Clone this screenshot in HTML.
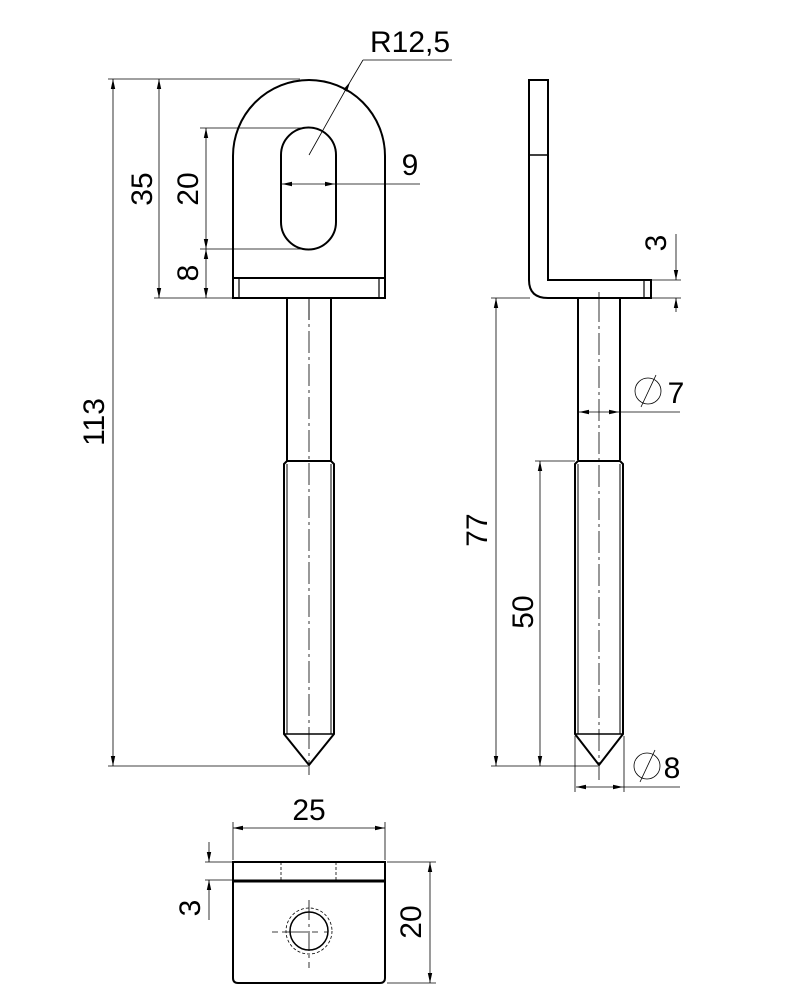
<!DOCTYPE html>
<html><head><meta charset="utf-8"><style>html,body{margin:0;padding:0;background:#fff}svg{display:block}</style></head>
<body>
<svg width="800" height="1000" viewBox="0 0 800 1000" xmlns="http://www.w3.org/2000/svg" font-family="Liberation Sans, DejaVu Sans, sans-serif">
<defs>
<marker id="a" viewBox="0 0 10 6" refX="10" refY="3" markerWidth="10" markerHeight="6" orient="auto-start-reverse" markerUnits="userSpaceOnUse"><path d="M0,0.8 L10,3 L0,5.2z" fill="#000"/></marker>
</defs>
<g fill="none" stroke="#000" stroke-width="2">
<path d="M233,278 L233,156 A76,76 0 0 1 385,156 L385,278 Z"/>
<path d="M281,155 A27.5,27.5 0 0 1 336,155 L336,222 A27.5,27.5 0 0 1 281,222 Z"/>
<rect x="233" y="278" width="152" height="20"/>
<line x1="239" y1="278" x2="239" y2="298" stroke-width="1.2"/>
<line x1="379" y1="278" x2="379" y2="298" stroke-width="1.2"/>
<path d="M287,298 L287,462 M331,298 L331,462"/>
<path d="M284,464 L287,461 L331,461 L334,464 L334,734 L309,765 L284,734 Z"/>
<line x1="284" y1="734" x2="334" y2="734" stroke-width="1.5"/>
<line x1="287" y1="464" x2="287" y2="734" stroke-width="1"/>
<line x1="331" y1="464" x2="331" y2="734" stroke-width="1"/>
<path d="M529,80 L548,80 L548,280 L651,280 L651,298 L548,298 Q529,298 529,280 Z"/>
<line x1="529" y1="155" x2="548" y2="155" stroke-width="1.5"/>
<line x1="644" y1="280" x2="644" y2="298" stroke-width="1.2"/>
<path d="M578,298 L578,460 M620,298 L620,460"/>
<path d="M575,464 L578,461 L620,461 L623,464 L623,734 L599,765 L575,734 Z"/>
<line x1="575" y1="734" x2="623" y2="734" stroke-width="1.5"/>
<line x1="578" y1="464" x2="578" y2="734" stroke-width="1"/>
<line x1="620" y1="464" x2="620" y2="734" stroke-width="1"/>
<path d="M233,862 L385,862 L385,978 Q385,983 380,983 L238,983 Q233,983 233,978 Z"/>
<line x1="233" y1="881" x2="385" y2="881" stroke-width="3"/>
<circle cx="309" cy="931" r="19" stroke-width="1.5"/>
</g>
<g fill="none" stroke="#000" stroke-width="0.8">
<line x1="309" y1="298" x2="309" y2="775" stroke-dasharray="22,4,3,4"/>
<line x1="599" y1="300" x2="599" y2="780" stroke-dasharray="22,4,3,4"/>
<line x1="309" y1="900" x2="309" y2="968" stroke-dasharray="20,4,3,4"/>
<line x1="272" y1="932" x2="346" y2="932" stroke-dasharray="6,4,26,4,6"/>
<circle cx="309" cy="931" r="23" stroke-dasharray="3,2"/>
<line x1="281" y1="862" x2="281" y2="880" stroke-dasharray="3,2"/>
<line x1="336" y1="862" x2="336" y2="880" stroke-dasharray="3,2"/>
<line x1="309" y1="298" x2="309" y2="320"/>
<line x1="599" y1="292" x2="599" y2="300"/>
<line x1="108" y1="79" x2="300" y2="79"/>
<line x1="108" y1="766" x2="308" y2="766"/>
<line x1="154" y1="298" x2="233" y2="298"/>
<line x1="200" y1="128" x2="308" y2="128"/>
<line x1="200" y1="249" x2="308" y2="249"/>
<line x1="491" y1="298" x2="530" y2="298"/>
<line x1="491" y1="766" x2="598" y2="766"/>
<line x1="535" y1="461" x2="575" y2="461"/>
<line x1="651" y1="280" x2="681" y2="280"/>
<line x1="651" y1="298" x2="681" y2="298"/>
<line x1="575" y1="736" x2="575" y2="792"/>
<line x1="624" y1="736" x2="624" y2="792"/>
<line x1="233" y1="822" x2="233" y2="860"/>
<line x1="385" y1="822" x2="385" y2="860"/>
<line x1="205" y1="862" x2="233" y2="862"/>
<line x1="205" y1="880" x2="233" y2="880"/>
<line x1="387" y1="862" x2="436" y2="862"/>
<line x1="387" y1="983" x2="436" y2="983"/>
<line x1="113" y1="79" x2="113" y2="766" marker-start="url(#a)" marker-end="url(#a)"/>
<line x1="159" y1="79" x2="159" y2="298" marker-start="url(#a)" marker-end="url(#a)"/>
<line x1="206" y1="128" x2="206" y2="249" marker-start="url(#a)" marker-end="url(#a)"/>
<line x1="206" y1="249" x2="206" y2="298" marker-start="url(#a)" marker-end="url(#a)"/>
<line x1="282" y1="184" x2="335" y2="184" marker-start="url(#a)" marker-end="url(#a)"/>
<line x1="335" y1="184" x2="420" y2="184"/>
<line x1="309" y1="155" x2="350" y2="82" marker-end="url(#a)"/>
<line x1="350" y1="82" x2="363" y2="60"/>
<line x1="363" y1="60" x2="452" y2="60"/>
<line x1="496" y1="298" x2="496" y2="766" marker-start="url(#a)" marker-end="url(#a)"/>
<line x1="540" y1="461" x2="540" y2="766" marker-start="url(#a)" marker-end="url(#a)"/>
<line x1="579" y1="412" x2="619" y2="412" marker-start="url(#a)" marker-end="url(#a)"/>
<line x1="620" y1="412" x2="680" y2="412"/>
<line x1="576" y1="787" x2="623" y2="787" marker-start="url(#a)" marker-end="url(#a)"/>
<line x1="623" y1="787" x2="680" y2="787"/>
<line x1="676" y1="234" x2="676" y2="280" marker-end="url(#a)"/>
<line x1="676" y1="312" x2="676" y2="298" marker-end="url(#a)"/>
<line x1="209" y1="842" x2="209" y2="862" marker-end="url(#a)"/>
<line x1="209" y1="920" x2="209" y2="880" marker-end="url(#a)"/>
<line x1="233" y1="828" x2="385" y2="828" marker-start="url(#a)" marker-end="url(#a)"/>
<line x1="430" y1="862" x2="430" y2="983" marker-start="url(#a)" marker-end="url(#a)"/>
<circle cx="648" cy="391" r="13"/><line x1="641" y1="407" x2="656" y2="375"/>
<circle cx="647" cy="766" r="13"/><line x1="640" y1="782" x2="655" y2="750"/>
</g>
<g fill="#000" font-size="30">
<text x="410" y="52" text-anchor="middle">R12,5</text>
<text x="410" y="175" text-anchor="middle">9</text>
<text x="676" y="403" text-anchor="middle">7</text>
<text x="672" y="778" text-anchor="middle">8</text>
<text x="309" y="820" text-anchor="middle">25</text>
<text transform="translate(104,422) rotate(-90)" text-anchor="middle">113</text>
<text transform="translate(152,189) rotate(-90)" text-anchor="middle">35</text>
<text transform="translate(198,189) rotate(-90)" text-anchor="middle">20</text>
<text transform="translate(198,273) rotate(-90)" text-anchor="middle">8</text>
<text transform="translate(487,530) rotate(-90)" text-anchor="middle">77</text>
<text transform="translate(533,612) rotate(-90)" text-anchor="middle">50</text>
<text transform="translate(666,243) rotate(-90)" text-anchor="middle">3</text>
<text transform="translate(200,908) rotate(-90)" text-anchor="middle">3</text>
<text transform="translate(421,922) rotate(-90)" text-anchor="middle">20</text>
</g>
</svg>
</body></html>
